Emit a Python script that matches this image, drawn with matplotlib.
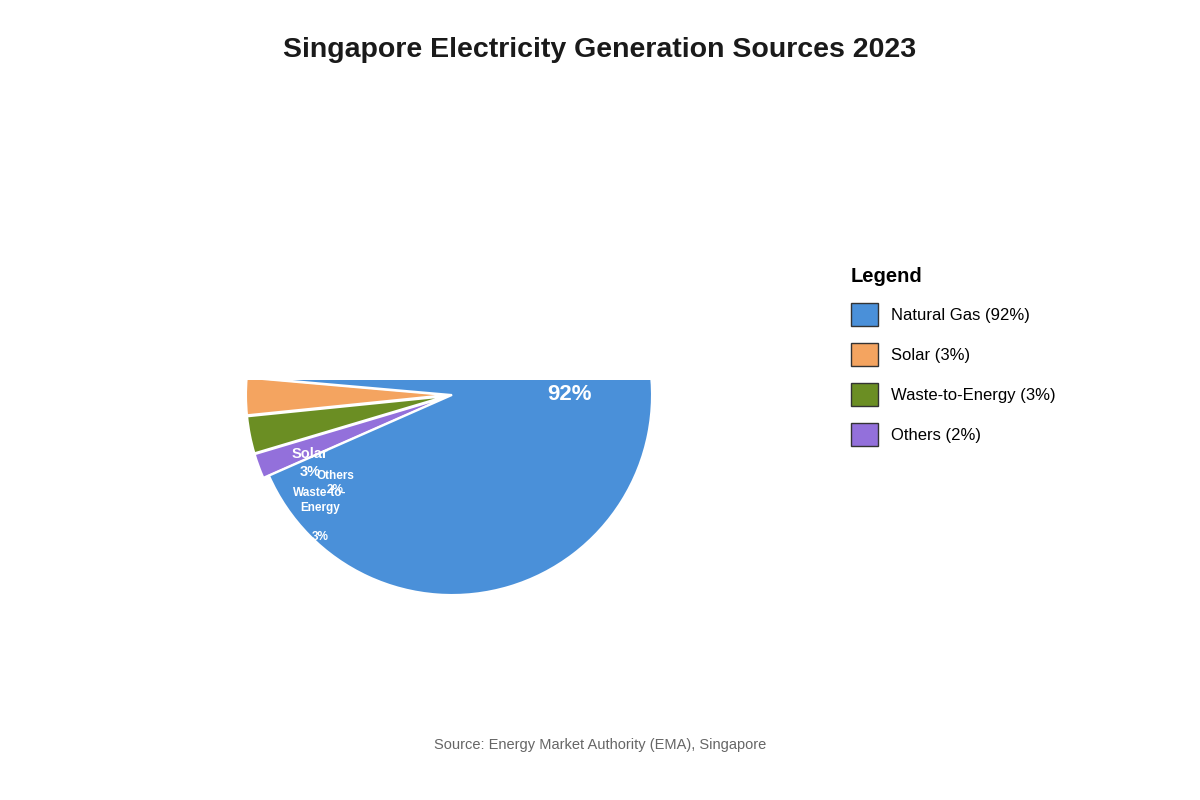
import matplotlib
matplotlib.use("Agg")
import matplotlib.pyplot as plt
from matplotlib.patches import Patch

categories = ["Natural Gas", "Solar", "Waste-to-Energy", "Others"]
values = [92, 3, 3, 2]
colors = ["#4a90d9", "#f4a460", "#6b8e23", "#9370db"]

plt.rcParams['font.family'] = ['Liberation Sans', 'DejaVu Sans']
fig = plt.figure(figsize=(12, 8), dpi=100)
fig.patch.set_facecolor("white")

ax = fig.add_axes([232/1200, (800-615)/800, 440/1200, 235/800])
order = [1, 2, 3, 0]
wedges, _ = ax.pie([values[i] for i in order], colors=[colors[i] for i in order],
                   startangle=175, counterclock=True, radius=1.0,
                   explode=[0.03, 0.03, 0.03, 0.0],
                   wedgeprops=dict(edgecolor="white", linewidth=1.5))
ax.set_aspect("auto")
ax.set_xlim(-1.1, 1.1)
ax.set_ylim(-1.1, 0.075)
ax.axis("off")
for w in wedges:
    w.set_clip_on(True)
    w.set_clip_box(ax.bbox)

ax.text(0.59, 0.0, "92%", color="white", fontsize=16, fontweight="bold", ha="center", va="center", clip_on=True)
ax.text(-0.71, -0.34, "Solar\n3%", color="white", fontsize=10.5, fontweight="bold", ha="center", va="center", linespacing=1.3)
ax.text(-0.585, -0.44, "Others\n2%", color="white", fontsize=8.5, fontweight="bold", ha="center", va="center", linespacing=1.3)
ax.text(-0.66, -0.6, "Waste-to-\nEnergy\n\n3%", color="white", fontsize=8.5, fontweight="bold", ha="center", va="center", linespacing=1.3)

fig.text(0.5, 1-50/800, "Singapore Electricity Generation Sources 2023", ha="center", va="center",
         fontsize=20.5, fontweight="bold", color="#1a1a1a")
fig.text(0.5, 1-745/800, "Source: Energy Market Authority (EMA), Singapore", ha="center", va="center",
         fontsize=10.5, color="#666666")

handles = [Patch(facecolor=c, edgecolor="#333333", label=f"{n} ({v}%)") for n, v, c in zip(categories, values, colors)]
fig.legend(handles=handles, loc="upper left", bbox_to_anchor=(836/1200, 1-252/800), frameon=False,
           title="Legend", fontsize=12, title_fontproperties={"weight": "bold", "size": 14.5},
           handlelength=1.6, handleheight=1.7, labelspacing=1.05, alignment="left")
fig.savefig("out.png", dpi=100)
